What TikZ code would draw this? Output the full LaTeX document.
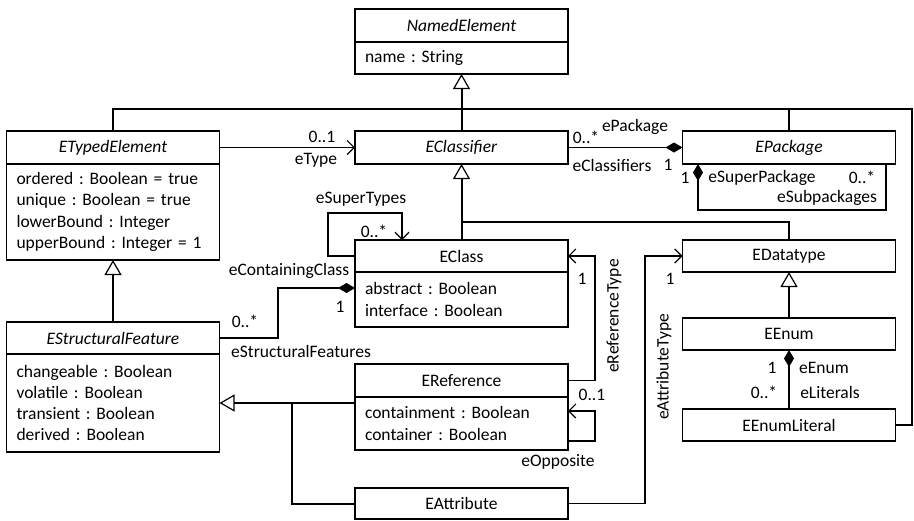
\documentclass[tikz,border=0pt]{standalone}
\usepackage{fontspec}
\setmainfont{Carlito}
\usetikzlibrary{arrows.meta,calc}
\frenchspacing

\begin{document}
\begin{tikzpicture}[x=1pt,y=-1pt,
  font=\fontsize{17.5}{21.3}\selectfont,
  hd/.style={draw,line width=1.2pt,minimum width=213pt,minimum height=33pt,inner sep=0pt,outer sep=0pt},
  bd/.style={draw,line width=1.2pt,anchor=north,inner xsep=10pt,inner ysep=0pt,outer sep=0pt,text width=193pt,align=left},
  gen/.style={line width=2pt},
  assoc/.style={line width=1.2pt},
  inh/.style={-{Triangle[open,length=15pt,width=17pt,line width=1.2pt]}},
  nav/.style={-{Straight Barb[length=7pt,width=14pt,line width=1.2pt]}},
  comp/.style={-{Diamond[length=17pt,width=10pt]}},
  compr/.style={{Diamond[length=17pt,width=10pt]}-},
  lbl/.style={inner sep=0pt}]

\useasboundingbox (0,0) rectangle (914,520);

% ---------- classes ----------
\node[hd] (ne) at (461.5,25.5) {\textit{NamedElement}};
\node[bd,minimum height=32pt] (ne-b) at (ne.south) {name : String};

\node[hd] (ete) at (113,147.5) {\textit{ETypedElement}};
\node[bd,minimum height=96pt] (ete-b) at (ete.south)
  {ordered : Boolean = true\\unique : Boolean = true\\lowerBound : Integer\\upperBound : Integer = 1};

\node[hd] (ecf) at (461.5,147.5) {\textit{EClassifier}};
\node[hd] (epk) at (789,147.5) {\textit{EPackage}};

\node[hd,minimum height=32pt] (ecls) at (461.5,256) {EClass};
\node[bd,minimum height=55pt] (ecls-b) at (ecls.south) {abstract : Boolean\\interface : Boolean};

\node[hd,minimum height=32pt] (edt) at (789,256) {EDatatype};

\node[hd,minimum height=32pt] (esf) at (113,338) {\textit{EStructuralFeature}};
\node[bd,minimum height=98pt] (esf-b) at (esf.south)
  {changeable : Boolean\\volatile : Boolean\\transient : Boolean\\derived : Boolean};

\node[hd] (eref) at (461.5,380.5) {EReference};
\node[bd,minimum height=53pt] (eref-b) at (eref.south) {containment : Boolean\\container : Boolean};

\node[hd,minimum height=32pt] (eenum) at (789,334) {EEnum};
\node[hd,minimum height=32pt] (eel) at (789,425) {EEnumLiteral};

\node[hd,minimum height=31pt] (eatt) at (461.5,503.5) {EAttribute};

% ---------- generalizations ----------
\coordinate (bus) at (912,109);
\coordinate (bus2) at (461.5,222);
\coordinate (gjoin) at (292,403);

\draw[gen,inh] (ecf.north) -- (ne-b.south);
\draw[gen] (ete.north) |- (bus) |- (eel.east);
\draw[gen] (epk.north) -- (epk.north |- bus);

\draw[gen,inh] (ecls.north) -- (ecf.south);
\draw[gen] (edt.north) |- (bus2);

\draw[gen,inh] (esf.north) -- (ete-b.south);

\draw[gen,inh] (esf-b.east -| eref-b.west) -- (esf-b.east);
\draw[gen] (eatt.west) -| (gjoin);

\draw[assoc,inh] (eenum.north) -- (edt.south);

% ---------- associations ----------
% eType
\draw[assoc,nav] (ete.east) -- (ecf.west);
\node[lbl] (l-et1) at (322,137) {0..1};
\node[lbl] (l-et2) at (316,160) {eType};

% ePackage / eClassifiers
\draw[line width=1.6pt,comp] (ecf.east) -- (epk.west);
\node[lbl] (l-pk1) at (586,137) {0..*};
\node[lbl] (l-pk2) at (635,127) {ePackage};
\node[lbl] (l-pk3) at (612,165) {eClassifiers};
\node[lbl] (l-pk4) at (668,165) {1};

% eSuperPackage / eSubpackages
\coordinate (sp1) at (698,210);
\coordinate (sp2) at (886,210);
\draw[assoc,compr] (epk.south -| sp1) -- (sp1) -- (sp2) -- (epk.south -| sp2);
\node[lbl] (l-sp1) at (685,178) {1};
\node[lbl] (l-sp2) at (762,178) {eSuperPackage};
\node[lbl] (l-sp3) at (862,177) {0..*};
\node[lbl] (l-sp4) at (827,198) {eSubpackages};

% eSuperTypes
\coordinate (st1) at (328,213);
\coordinate (st2) at (402,213);
\draw[assoc,nav] (ecls.west) -| (st1) -- (st2) -- (st2 |- ecls.north);
\node[lbl] (l-st1) at (361,199) {eSuperTypes};
\node[lbl] (l-st2) at (374,231) {0..*};

% eContainingClass / eStructuralFeatures
\coordinate (cc) at (278,288);
\draw[assoc,comp] (esf.east) -| (cc) -- (cc -| ecls-b.west);
\node[lbl] (l-cc1) at (289,271) {eContainingClass};
\node[lbl] (l-cc2) at (340,307) {1};
\node[lbl] (l-cc3) at (245,321) {0..*};
\node[lbl] (l-cc4) at (301,351) {eStructuralFeatures};

% eReferenceType
\coordinate (rt) at (595,256);
\draw[assoc,nav] (eref.east) -| (rt) -- (ecls.east);
\node[lbl] (l-rt1) at (582,279) {1};
\node[lbl,rotate=90] (l-rt2) at (614,316) {eReferenceType};

% eOpposite
\coordinate (op1) at (595,441);
\coordinate (op2) at (595,411);
\draw[assoc,nav] (op1 -| eref-b.east) -- (op1) -- (op2) -- (op2 -| eref-b.east);
\node[lbl] (l-op1) at (592,395) {0..1};
\node[lbl] (l-op2) at (558,462) {eOpposite};

% eAttributeType
\coordinate (at) at (645,256);
\draw[assoc,nav] (eatt.east) -| (at) -- (edt.west);
\node[lbl] (l-at1) at (670,279) {1};
\node[lbl,rotate=90] (l-at2) at (664,367) {eAttributeType};

% eEnum / eLiterals
\draw[assoc,compr] (eenum.south) -- (eel.north);
\node[lbl] (l-en1) at (772,368) {1};
\node[lbl] (l-en2) at (824,368) {eEnum};
\node[lbl] (l-en3) at (764,392) {0..*};
\node[lbl] (l-en4) at (830,392) {eLiterals};

\end{tikzpicture}
\end{document}
